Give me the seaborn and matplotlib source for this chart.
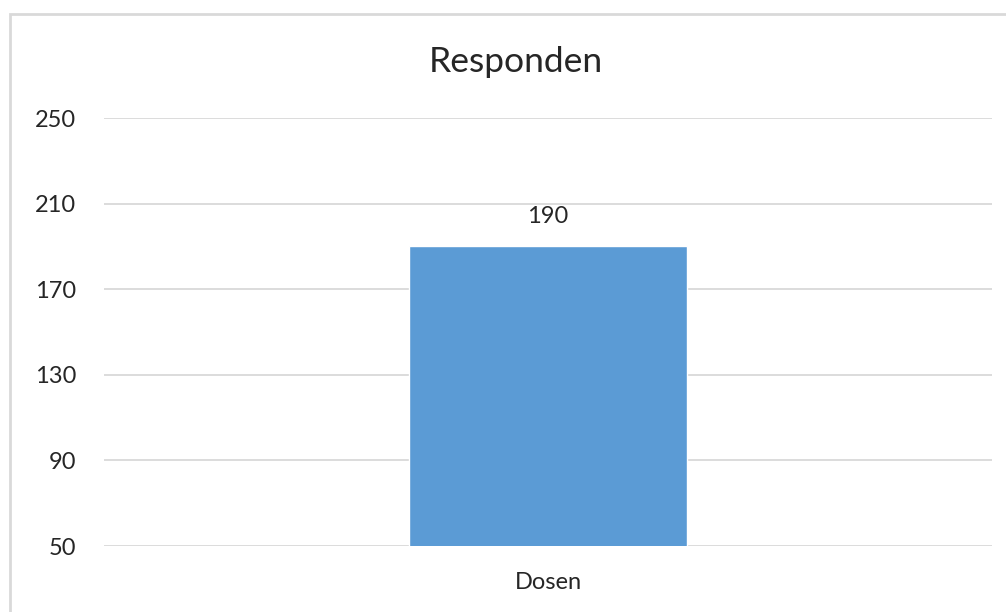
import pandas as pd
import matplotlib.pyplot as plt
import seaborn as sns
from matplotlib.patches import Rectangle

categories = ['Dosen']
values = [190]
yticks = [50, 90, 130, 170, 210, 250]

df = pd.DataFrame({'Kategori': categories, 'Jumlah': values})

sns.set_style('white')
plt.rcParams['font.family'] = ['Lato', 'DejaVu Sans']

fig = plt.figure(figsize=(10.06, 6.12), dpi=100)
ax = fig.add_axes([0.1034, 0.1078, 0.8826, 0.6993])

sns.barplot(x='Kategori', y='Jumlah', data=df, color='#5B9BD5', width=0.313,
            saturation=1, ax=ax)
ax.set_ylim(50, 250)
ax.set_xlim(-0.5, 0.5)
ax.set_yticks(yticks)
ax.yaxis.grid(True, color='#d9d9d9', linewidth=1.3)
ax.set_axisbelow(True)
sns.despine(ax=ax, left=True, bottom=True)
ax.tick_params(axis='y', length=0, pad=20, labelsize=17, labelcolor='#262626')
ax.tick_params(axis='x', length=0, pad=19, labelsize=17, labelcolor='#262626')
ax.set_xlabel('')
ax.set_ylabel('')
ax.bar_label(ax.containers[0], padding=14, fontsize=17, color='#262626')
fig.suptitle('Responden', x=0.513, y=0.925, fontsize=25.5, color='#262626')

# chart border
fig.patches.append(Rectangle((10 / 1006, -0.1), 1.2, 1.1 - 14 / 612, transform=fig.transFigure,
                             fill=False, edgecolor='#d9d9d9', linewidth=2, clip_on=False))

fig.savefig('out.png', dpi=100)
